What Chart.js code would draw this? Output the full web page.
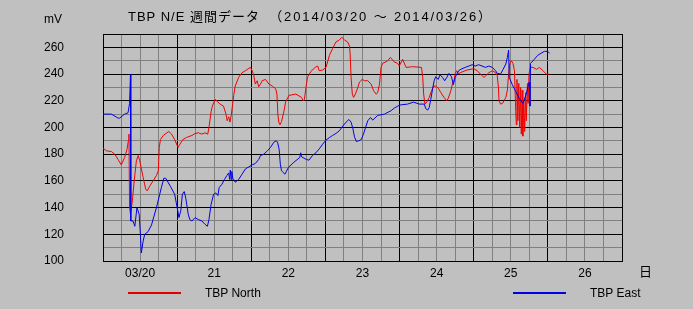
<!DOCTYPE html>
<html lang="ja">
<head>
<meta charset="utf-8">
<title>TBP N/E 週間データ</title>
<script src="https://cdn.jsdelivr.net/npm/chart.js@4.4.1/dist/chart.umd.min.js"></script>
<style>
  body { margin: 0; background: #c0c0c0; font-family: "Liberation Sans", "Noto Sans CJK JP", sans-serif; }
  #wrap { position: relative; width: 693px; height: 309px; background: #c0c0c0; }
  #wrap canvas { position: absolute; left: 0; top: 0; }
  .txt { position: absolute; color: #000; font-size: 12px; white-space: nowrap; line-height: 14px; }
  .key { position: absolute; height: 2px; width: 53px; }
</style>
</head>
<body>
<div id="wrap">
  <canvas id="tbpChart" width="693" height="309"></canvas>
  <div class="txt" style="left:128px; top:10px; font-size:13px; letter-spacing:1px;">TBP N/E 週間データ&nbsp; <span style="letter-spacing:1.9px;">（2014/03/20 ～ 2014/03/26）</span></div>
  <div class="txt" style="left:44px; top:12px;">mV</div>
  <div class="txt" style="left:639px; top:265px; font-size:13px;">日</div>
  <div class="key" style="left:128px; top:292px; background:#e00000;"></div>
  <div class="txt" style="left:205px; top:286px;">TBP North</div>
  <div class="key" style="left:513px; top:292px; background:#0000e0;"></div>
  <div class="txt" style="left:590px; top:286px;">TBP East</div>
</div>
<script>
// heures depuis 03/20 00:00 et valeurs en mV
const northHours = [0, 1.1, 2.7, 3.8, 4.9, 5.9, 7.0, 7.8, 8.2, 8.4, 8.6, 8.9, 9.5, 10.1, 10.8, 11.4, 11.9, 13.0, 13.8, 14.3,
  15.1, 16.2, 17.3, 17.9, 18.2, 18.6, 19.5, 21.3, 22.2, 23.2, 24.3, 24.9, 25.9, 27.0, 28.8, 29.8, 30.9, 32.0, 33.0, 33.9,
  34.3, 35.0, 35.4, 36.3, 37.2, 37.9, 39.0, 39.8, 40.2, 40.7, 41.1, 41.5, 42.0, 42.3, 42.8, 43.9, 45.0, 46.1, 47.7, 48.3,
  48.8, 49.3, 49.9, 50.4, 51.0, 51.5, 52.6, 53.7, 54.8, 55.9, 56.3, 56.6, 56.9, 57.3, 57.8, 58.6, 59.1, 60.2, 62.4, 64.3,
  64.8, 65.2, 65.7, 66.2, 67.3, 68.7, 69.5, 70.0, 71.1, 72.2, 73.3, 74.3, 75.4, 76.5, 77.3, 78.2, 79.2, 79.8, 80.0, 80.3,
  80.7, 81.1, 81.7, 82.5, 83.0, 83.9, 84.7, 85.7, 86.8, 87.6, 88.4, 88.9, 89.5, 90.0, 90.5, 92.2, 93.0, 94.3, 95.4, 95.9,
  97.0, 98.1, 100.2, 103.1, 103.5, 103.8, 104.2, 104.8, 105.6, 106.1, 107.0, 107.7, 108.5, 109.4, 110.4, 111.3, 111.8, 112.6, 113.1, 113.7,
  114.0, 114.5, 115.1, 115.6, 117.8, 120.0, 121.1, 122.2, 123.3, 123.8, 124.9, 126.0, 127.1, 127.6, 128.0, 128.2, 128.7, 129.3, 129.8, 130.4,
  130.9, 131.3, 131.7, 132.2, 132.7, 133.2, 133.6, 133.8, 134.0, 134.3, 134.6, 134.9, 135.2, 135.4, 135.7, 135.9, 136.2, 136.5, 136.8, 137.0,
  137.4, 137.6, 137.9, 138.3, 139.2, 140.3, 141.3, 142.4, 143.5, 144.4];
const northMv = [184.5, 182.5, 182, 180, 176, 172, 177.5, 184, 190, 195, 140, 135, 145, 160, 175, 179, 175, 162.5, 154, 152.5,
  156, 160, 164, 167.5, 185, 191, 194, 197, 195, 191, 185, 187.5, 191, 192.5, 194, 195.5, 196, 195, 196, 195,
  200, 212, 216, 221, 219, 217.5, 216, 210, 205, 208, 204, 209, 218, 224, 231, 237.5, 241, 242.5, 245, 242.5,
  239, 232.5, 235, 230.5, 232.5, 235, 236, 232.5, 231, 229, 225, 210, 204, 202, 204.5, 212.5, 219, 224, 225, 222.5,
  220, 221, 230, 237.5, 242, 245, 246, 242.5, 243, 245, 254, 259, 264, 265.5, 267.5, 265.5, 264, 261, 255, 237.5,
  225, 222.5, 225, 230, 234, 236, 235, 235, 232.5, 227.5, 225, 226, 232.5, 245, 248, 250, 252.5, 249, 248, 246,
  251, 245, 245.5, 245, 237.5, 225, 217.5, 219, 222.5, 226, 231, 231, 229.5, 226, 222.5, 220, 222, 227.5, 232.5, 236,
  240.5, 242.5, 240, 241, 243, 244, 242.5, 240, 237.5, 238.5, 241, 242.5, 241, 239, 230, 220, 217.5, 218, 220, 222.5,
  228, 240, 248, 250, 248, 242.5, 212, 202, 236, 205, 233, 200, 230, 195, 228, 193.5, 220, 197, 226, 205,
  233, 218, 240, 245, 245, 243.5, 245, 242.5, 240, 240];

const eastHours = [0, 2.7, 4.9, 5.4, 7.0, 8.1, 8.6, 8.9, 9.0, 9.7, 10.3, 11.0, 11.7, 12.1, 12.4, 13.0, 13.5, 14.6, 15.7, 17.3,
  18.9, 19.7, 20.3, 21.8, 23.2, 24.0, 24.6, 25.2, 25.7, 26.3, 26.8, 27.6, 28.1, 28.8, 29.8, 30.9, 32.0, 33.0, 33.8, 34.3,
  35.0, 35.8, 36.5, 37.2, 37.6, 38.5, 39.3, 40.1, 40.7, 41.0, 41.2, 41.5, 41.7, 42.0, 42.3, 42.8, 43.9, 45.0, 46.1, 47.2,
  48.3, 49.3, 50.4, 51.0, 52.1, 53.2, 54.2, 55.3, 56.1, 56.5, 57.0, 57.4, 57.8, 58.9, 60.0, 61.8, 63.7, 64.0, 64.3, 65.9,
  66.7, 67.8, 68.9, 70.0, 71.1, 72.2, 73.3, 74.3, 75.4, 76.5, 77.6, 78.7, 79.6, 80.3, 80.9, 81.4, 82.0, 82.8, 83.6, 84.3,
  85.0, 85.7, 86.6, 87.3, 88.9, 91.1, 93.2, 94.3, 95.4, 96.5, 98.6, 100.5, 102.4, 104.0, 104.5, 105.1, 105.6, 106.1, 106.7, 107.2,
  107.7, 108.5, 109.1, 109.9, 110.6, 111.3, 112.0, 112.8, 113.4, 114.0, 115.1, 116.2, 117.3, 118.4, 119.5, 120.5, 121.6, 122.7, 123.8, 124.9,
  126.0, 127.1, 127.6, 128.7, 129.5, 130.4, 130.9, 131.3, 131.5, 132.5, 133.6, 134.7, 135.9, 137.0, 137.6, 138.0, 138.2, 138.4, 139.6, 140.7,
  142.1, 142.9, 144.0, 144.6];
const eastMv = [210, 210, 207, 207, 210, 211, 218, 240, 130, 130, 126, 140, 135, 120, 106, 115, 120, 122, 127, 140,
  155, 162, 162, 156, 150, 140, 132.5, 138, 150, 152, 147, 135, 131, 130, 132.5, 131, 130, 127.5, 126, 131,
  142.5, 150, 151, 149, 155, 157.5, 161, 164, 166, 161, 168, 161, 167, 162, 161, 159, 161, 165, 169, 170.5,
  172, 173, 176, 179, 180, 182.5, 185, 189, 190, 189, 184, 172.5, 167.5, 165, 170, 174, 177.5, 181, 178, 176,
  175.5, 179, 181, 184, 187.5, 190.5, 192.5, 194, 195.5, 197.5, 201, 204, 206, 204, 199, 193, 189.5, 190, 191, 195,
  200, 205, 207.5, 205.5, 209, 210, 212.5, 214.5, 216, 217, 217.5, 219, 217.5, 217.5, 214, 213, 215, 221, 229, 235,
  238, 236, 239.5, 237.5, 235, 237.5, 240.5, 238, 232, 237.5, 242.5, 244, 245, 246, 247, 246, 247, 246, 245, 246,
  245, 242.5, 240.5, 240, 243.5, 247.5, 252.5, 258, 237.5, 232, 227, 222, 218, 225, 231, 234, 216, 248, 251, 254,
  256, 257, 257, 255.5];

// étiquettes des jours (placées à midi)
const dayLabels = ["03/20", "21", "22", "23", "24", "25", "26"];

const toPoints = (hours, values) => hours.map((h, i) => ({ x: h, y: values[i] }));

const tickFont = { family: "'Liberation Sans', 'Noto Sans CJK JP', sans-serif", size: 12 };

new Chart(document.getElementById("tbpChart").getContext("2d"), {
  type: "line",
  data: {
    datasets: [
      {
        label: "TBP East",
        data: toPoints(eastHours, eastMv),
        borderColor: "#0000e8",
        borderWidth: 1,
        pointRadius: 0,
        tension: 0,
        order: 0,
      },
      {
        label: "TBP North",
        data: toPoints(northHours, northMv),
        borderColor: "#f00000",
        borderWidth: 1,
        pointRadius: 0,
        tension: 0,
        order: 1,
      },
    ],
  },
  options: {
    responsive: false,
    animation: false,
    devicePixelRatio: 1,
    layout: { padding: { top: 34, right: 71, left: 0, bottom: 0 } },
    plugins: { legend: { display: false }, tooltip: { enabled: false } },
    scales: {
      x: {
        type: "linear",
        min: 0,
        max: 168,
        border: { display: true, color: "#000" },
        grid: {
          drawTicks: false,
          color: (ctx) => (ctx.tick && ctx.tick.value % 24 === 0 ? "#000" : "#808080"),
        },
        ticks: {
          stepSize: 6,
          autoSkip: false,
          maxRotation: 0,
          padding: 5,
          color: "#000",
          font: tickFont,
          callback: (v) => (v % 24 === 12 ? dayLabels[(v - 12) / 24] : ""),
        },
        afterFit: (scale) => {
          scale.height = 48;
          scale.paddingLeft = 0;
          scale.paddingRight = 0;
        },
      },
      y: {
        min: 100,
        max: 270,
        border: { display: true, color: "#000" },
        grid: {
          drawTicks: false,
          color: (ctx) => (ctx.tick && (ctx.tick.value % 20 === 0 || ctx.tick.value === 270) ? "#000" : "#808080"),
        },
        ticks: {
          stepSize: 10,
          autoSkip: false,
          padding: 39,
          color: "#000",
          font: tickFont,
          callback: (v) => (v % 20 === 0 && v <= 260 ? v : ""),
        },
        afterFit: (scale) => {
          scale.width = 103;
          scale.paddingTop = 0;
          scale.paddingBottom = 0;
        },
      },
    },
  },
});
</script>
</body>
</html>
